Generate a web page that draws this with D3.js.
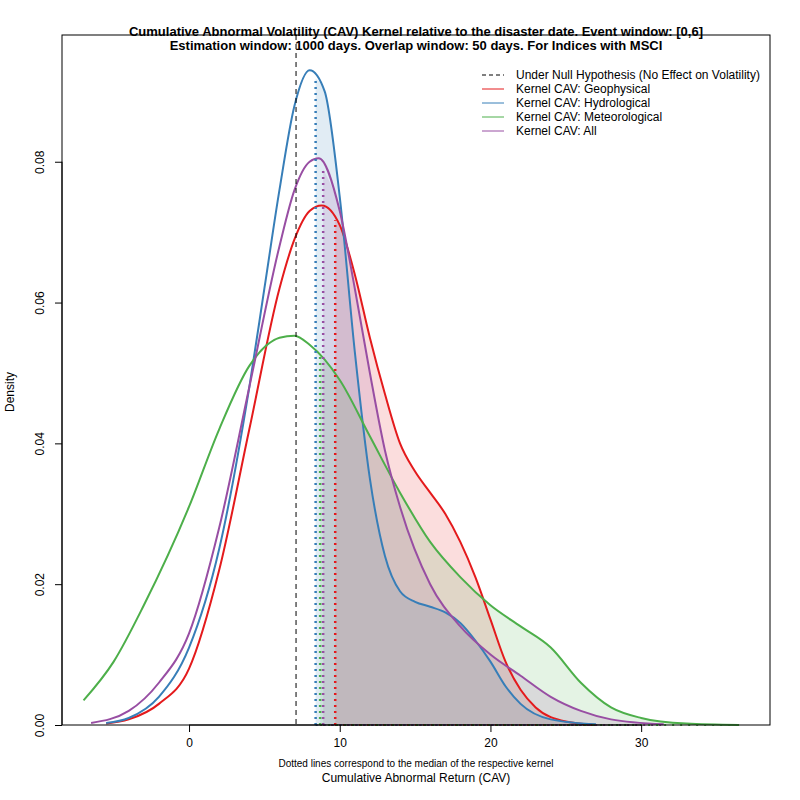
<!DOCTYPE html>
<html><head><meta charset="utf-8">
<script src="https://cdn.jsdelivr.net/npm/d3@7"></script>
<style>body{margin:0;background:#fff}text{font-family:"Liberation Sans",Arial,sans-serif}</style>
</head><body><svg id="c" width="800" height="800"></svg>
<script>
// kernel density curves: [x, density]
var geoX = [-5.5,-4,-2,0,2,4,6,7,8,8.8,10,11,12,13,14,15,16,17,18,19,20,21,22,23,25,27];
var geoY = [0.0002,0.0008,0.003,0.008,0.022,0.042,0.062,0.069,0.073,0.0738,0.071,0.064,0.055,0.047,0.040,0.036,0.033,0.030,0.026,0.021,0.015,0.009,0.005,0.0025,0.0005,0];
var hydX = [-5.5,-4,-2,0,2,4,5,6,7,8,9,10,11,12,13,14,15,16,17,18,19,20,21,22,24,27];
var hydY = [0.0003,0.001,0.004,0.011,0.025,0.048,0.062,0.076,0.088,0.093,0.090,0.075,0.053,0.035,0.024,0.019,0.0175,0.0168,0.016,0.0145,0.012,0.009,0.0055,0.003,0.0008,0.0001];
var metX = [-7,-5,-3,0,2,4,6,7,8,10,12,14,16,18,20,22,24,26,28,30,33,36.5];
var metY = [0.0035,0.009,0.017,0.031,0.042,0.051,0.055,0.0553,0.054,0.049,0.041,0.033,0.026,0.021,0.017,0.014,0.011,0.006,0.0025,0.001,0.0002,0];
var allX = [-6.5,-4,-2,0,2,4,6,7,8,8.6,10,11,12,13,14,16,18,20,22,24,26,28,31.5];
var allY = [0.0003,0.002,0.006,0.013,0.028,0.048,0.068,0.076,0.080,0.0805,0.073,0.062,0.050,0.039,0.031,0.020,0.014,0.010,0.007,0.004,0.002,0.0008,0.0001];
var medians = [9.7, 8.4, 8.7, 8.9];
var nullLine = 7.1;
var names = ["Kernel CAV: Geophysical","Kernel CAV: Hydrological","Kernel CAV: Meteorological","Kernel CAV: All"];
var colors = ["#e41a1c","#377eb8","#4daf4a","#984ea3"];
var xTicks = [0,10,20,30];
var yTicks = [0,0.02,0.04,0.06,0.08];

var series = [[geoX,geoY],[hydX,hydY],[metX,metY],[allX,allY]];
var svg = d3.select("#c");
var L=62,R=770,T=35,B=725;
var x = d3.scaleLinear().domain([-8.43,38.55]).range([L,R]);
var y = d3.scaleLinear().domain([0,0.098]).range([B,T]);

function interp(xs, ys, v){
  for (var i=1;i<xs.length;i++) if (xs[i]>=v){var t=(v-xs[i-1])/(xs[i]-xs[i-1]);return ys[i-1]+t*(ys[i]-ys[i-1]);}
  return 0;
}
var line = d3.line().x(function(d){return x(d[0]);}).y(function(d){return y(d[1]);}).curve(d3.curveMonotoneX);
var area = d3.area().x(function(d){return x(d[0]);}).y0(y(0)).y1(function(d){return y(d[1]);}).curve(d3.curveMonotoneX);

// shaded areas right of each median
series.forEach(function(s,i){
  var m = medians[i];
  var pts = [[m, interp(s[0],s[1],m)]];
  s[0].forEach(function(v,j){ if (v>m) pts.push([v,s[1][j]]); });
  svg.append("path").attr("d",area(pts)).attr("fill",colors[i]).attr("fill-opacity",0.15);
});
// curves
series.forEach(function(s,i){
  var pts = s[0].map(function(v,j){return [v,s[1][j]];});
  svg.append("path").attr("d",line(pts)).attr("fill","none").attr("stroke",colors[i]).attr("stroke-width",2);
});
// median dotted lines
series.forEach(function(s,i){
  var m = medians[i];
  svg.append("line").attr("x1",x(m)).attr("x2",x(m)).attr("y1",y(0)).attr("y2",y(interp(s[0],s[1],m)))
    .attr("stroke",colors[i]).attr("stroke-width",2.5).attr("stroke-dasharray","2,4");
  svg.append("line").attr("x1",x(m)).attr("x2",x(s[0][s[0].length-1])).attr("y1",y(0)).attr("y2",y(0))
    .attr("stroke",colors[i]).attr("stroke-width",2).attr("stroke-dasharray","2,6");
});
svg.append("line").attr("x1",x(nullLine)).attr("x2",x(nullLine)).attr("y1",T).attr("y2",B)
  .attr("stroke","#000").attr("stroke-dasharray","5,4");

svg.append("rect").attr("x",L).attr("y",T).attr("width",R-L).attr("height",B-T).attr("fill","none").attr("stroke","#000");

var xa = svg.append("g").attr("transform","translate(0,"+B+")")
  .call(d3.axisBottom(x).tickValues(xTicks).tickSize(7).tickPadding(6).tickFormat(d3.format("d")));
xa.select(".domain").attr("d","M"+x(0)+",0H"+x(30));
var ya = svg.append("g").attr("transform","translate("+L+",0)")
  .call(d3.axisLeft(y).tickValues(yTicks).tickSize(7).tickFormat(d3.format(".2f")));
ya.select(".domain").attr("d","M0,"+y(0)+"V"+y(0.08));
ya.selectAll(".tick text").attr("transform","rotate(-90)").attr("x",0).attr("y",-18).attr("dy",0).attr("text-anchor","middle");
svg.selectAll(".tick text").attr("font-size",12).attr("font-family","Liberation Sans, Arial");

svg.append("text").attr("x",416).attr("y",36).attr("text-anchor","middle").attr("font-weight","bold").attr("font-size",13)
  .text("Cumulative Abnormal Volatility (CAV) Kernel relative to the disaster date. Event window: [0,6]");
svg.append("text").attr("x",416).attr("y",50).attr("text-anchor","middle").attr("font-weight","bold").attr("font-size",13)
  .text("Estimation window: 1000 days. Overlap window: 50 days. For Indices with MSCI");
svg.append("text").attr("x",416).attr("y",767).attr("text-anchor","middle").attr("font-size",10)
  .text("Dotted lines correspond to the median of the respective kernel");
svg.append("text").attr("x",416).attr("y",782).attr("text-anchor","middle").attr("font-size",12)
  .text("Cumulative Abnormal Return (CAV)");
svg.append("text").attr("transform","translate(14,392) rotate(-90)").attr("text-anchor","middle").attr("font-size",12)
  .text("Density");

// legend
var lg = svg.append("g").attr("transform","translate(482,75)");
var items = [["Under Null Hypothesis (No Effect on Volatility)","#000",true]].concat(names.map(function(n,i){return [n,colors[i],false];}));
items.forEach(function(it,i){
  lg.append("line").attr("x1",0).attr("x2",22).attr("y1",i*14).attr("y2",i*14).attr("stroke",it[1])
    .attr("stroke-dasharray",it[2]?"4,3":null);
  lg.append("text").attr("x",34).attr("y",i*14+4).attr("font-size",12).text(it[0]);
});
</script></body></html>
